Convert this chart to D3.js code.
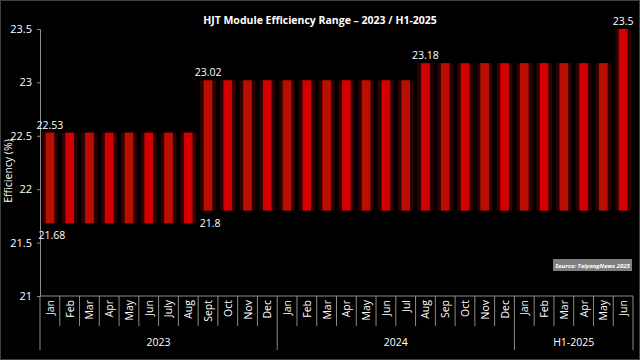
<!DOCTYPE html>
<html><head><meta charset="utf-8">
<script src="https://cdn.jsdelivr.net/npm/d3@7/dist/d3.min.js"></script>
<style>
html,body{margin:0;padding:0;background:#000;}
svg{display:block;}
text{font-family:"Open Sans",sans-serif;fill:#fff;}
</style></head>
<body>
<script>
const months = ["Jan","Feb","Mar","Apr","May","Jun","July","Aug","Sept","Oct","Nov","Dec",
  "Jan","Feb","Mar","Apr","May","Jun","Jul","Aug","Sep","Oct","Nov","Dec",
  "Jan","Feb","Mar","Apr","May","Jun"];
const groupLabels = ["2023","2024","H1-2025"];
const groupSizes = [12,12,6];
const minVals = [21.68,21.68,21.68,21.68,21.68,21.68,21.68,21.68,
  21.8,21.8,21.8,21.8,21.8,21.8,21.8,21.8,21.8,21.8,21.8,
  21.8,21.8,21.8,21.8,21.8,21.8,21.8,21.8,21.8,21.8,21.8];
const maxVals = [22.53,22.53,22.53,22.53,22.53,22.53,22.53,22.53,
  23.02,23.02,23.02,23.02,23.02,23.02,23.02,23.02,23.02,23.02,23.02,
  23.18,23.18,23.18,23.18,23.18,23.18,23.18,23.18,23.18,23.18,23.5];
const yTicks = [21,21.5,22,22.5,23,23.5];
const topLabelIdx = [0,8,19,29];
const bottomLabelIdx = [0,8];

const W=640,H=360;
const svg=d3.select("body").append("svg").attr("width",W).attr("height",H);
svg.append("rect").attr("x",0.5).attr("y",0.5).attr("width",W-1).attr("height",H-1)
  .attr("fill","#000").attr("stroke","#404040");

const x=d3.scaleBand().domain(d3.range(months.length)).range([40,633]).paddingInner(0).paddingOuter(0);
const y=d3.scaleLinear().domain([21,23.5]).range([296,29]);

svg.append("text").attr("x",320).attr("y",24).attr("text-anchor","middle")
  .attr("font-size",10.5).attr("font-weight","bold").text("HJT Module Efficiency Range \u2013 2023 / H1-2025");

// y axis
const ya=svg.append("g").attr("transform","translate(40,0)")
  .call(d3.axisLeft(y).tickValues(yTicks).tickSize(3).tickPadding(5).tickFormat(d=>String(d)));
ya.select(".domain").attr("stroke","#8c8c8c");
ya.selectAll(".tick line").attr("stroke","#8c8c8c");
ya.selectAll(".tick text").attr("fill","#fff").attr("font-size",11).attr("font-family","'Open Sans',sans-serif");

svg.append("text").attr("transform","translate(12,171) rotate(-90)").attr("text-anchor","middle")
  .attr("font-size",10.5).text("Efficiency (%)");

// bars
const bw=x.bandwidth();
const g=svg.append("g");
g.selectAll("rect.glow").data(months).join("rect").attr("class","glow")
  .attr("x",(d,i)=>x(i)+bw*0.1).attr("width",bw*0.8)
  .attr("y",(d,i)=>y(maxVals[i])).attr("height",(d,i)=>y(minVals[i])-y(maxVals[i]))
  .attr("fill","#2e0202");
g.selectAll("rect.bar").data(months).join("rect").attr("class","bar")
  .attr("x",(d,i)=>x(i)+bw*0.28).attr("width",bw*0.44)
  .attr("y",(d,i)=>y(maxVals[i])).attr("height",(d,i)=>y(minVals[i])-y(maxVals[i]))
  .attr("fill",(d,i)=>i%2===0?"#b80f00":"#d20000");

// value labels
svg.selectAll("text.tl").data(topLabelIdx).join("text").attr("class","tl")
  .attr("x",i=>x(i)+bw/2).attr("y",i=>y(maxVals[i])-4).attr("text-anchor","middle")
  .attr("font-size",10.5).text(i=>String(maxVals[i]));
svg.selectAll("text.bl").data(bottomLabelIdx).join("text").attr("class","bl")
  .attr("x",i=>x(i)+bw/2+2).attr("y",i=>y(minVals[i])+16).attr("text-anchor","middle")
  .attr("font-size",10.5).text(i=>String(minVals[i]));

// x axis
const xa=svg.append("g");
xa.append("line").attr("x1",40).attr("x2",633).attr("y1",296).attr("y2",296).attr("stroke","#8c8c8c");
const groupStarts=[];let acc=0;groupSizes.forEach(s=>{groupStarts.push(acc);acc+=s;});
const boundaries=new Set(groupStarts.concat([months.length]));
d3.range(months.length+1).forEach(i=>{
  const xx=i<months.length?x(i):x(months.length-1)+bw;
  const long=boundaries.has(i);
  xa.append("line").attr("x1",xx).attr("x2",xx).attr("y1",296).attr("y2",long?350:326)
    .attr("stroke","#8c8c8c");
});
xa.selectAll("text.m").data(months).join("text").attr("class","m")
  .attr("transform",(d,i)=>`translate(${x(i)+bw/2+4},300) rotate(-90)`)
  .attr("text-anchor","end").attr("font-size",10.5).text(d=>d);
xa.selectAll("text.grp").data(groupLabels).join("text").attr("class","grp")
  .attr("x",(d,k)=>(x(groupStarts[k])+x(groupStarts[k]+groupSizes[k]-1)+bw)/2)
  .attr("y",346).attr("text-anchor","middle").attr("font-size",10.5).text(d=>d);

// source box
svg.append("rect").attr("x",553).attr("y",259).attr("width",79).attr("height",12).attr("fill","#7f7f7f");
svg.append("text").attr("x",592.5).attr("y",268).attr("text-anchor","middle")
  .attr("font-size",6).attr("font-style","italic").attr("font-weight","bold").text("Source: TaiyangNews 2025");
</script>
</body></html>
